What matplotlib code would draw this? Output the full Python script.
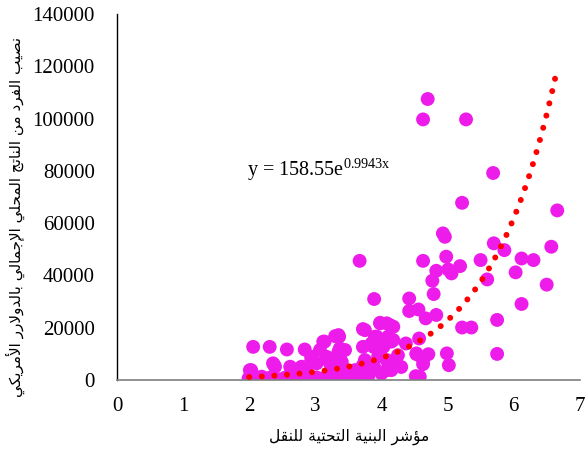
import matplotlib
matplotlib.use("Agg")
import matplotlib.pyplot as plt
import numpy as np

# infrastructure index vs GDP per capita
x_vals = [4.70, 4.63, 5.28, 5.69, 5.22, 6.66,
          4.93, 4.96, 5.70, 5.86, 6.57,
          4.63, 3.67, 4.98, 4.83, 5.01, 5.06, 5.19,
          4.77, 4.79, 5.50, 5.60, 6.12, 6.30, 6.03,
          6.50, 6.12, 5.75, 5.75, 5.22, 5.36, 4.99, 5.02,
          4.42, 4.42, 4.56, 4.67, 4.83, 4.37, 4.57, 4.53,
          4.71, 4.63, 4.52, 4.63, 4.58, 4.53,
          3.89, 3.72, 3.75, 3.98, 3.98, 4.08, 4.13, 4.18,
          3.93, 3.90, 4.08, 4.10, 4.18, 4.15, 3.85,
          4.03, 3.88, 3.72, 4.18, 4.08, 3.88, 3.70, 3.70,
          3.75, 4.08, 4.15, 3.90, 3.60, 3.65, 3.72,
          3.36, 3.35, 3.30, 3.12, 3.14, 3.35, 3.40, 3.37, 3.45,
          3.32, 3.37, 3.47, 3.57, 3.37, 3.22, 3.45,
          2.06, 2.31, 2.57, 2.84, 3.07, 2.94, 3.17, 3.22, 3.02,
          2.94, 3.12, 2.92, 2.72, 2.62, 2.39, 2.36, 2.38, 2.01, 2.03,
          1.99, 2.19, 2.46, 2.21, 2.77, 2.87, 2.79, 3.02, 2.55, 2.65,
          2.30, 2.10, 3.25, 3.55, 3.80, 4.00, 3.95, 4.25, 4.30]
y_vals = [107500, 99700, 99700, 79200, 67800, 64900,
          56100, 54800, 52300, 49700, 51000,
          45600, 45600, 47200, 41800, 42300, 40800, 43600,
          38000, 32900, 45900, 38500, 46500, 45900, 41200,
          36500, 29100, 23000, 10000, 20100, 20100, 10200, 5700,
          31200, 26400, 27000, 23600, 24900, 14000, 15900, 9900,
          9900, 6100, 1500, 7650, 1300, 10200,
          31000, 19500, 19100, 21700, 21900, 21700, 21000, 20400,
          16600, 16600, 15300, 16600, 15300, 14700, 14000,
          12700, 12700, 12700, 6400, 3800, 5100, 3800, 650,
          7650, 7650, 3800, 4500, 3800, 1900, 5700,
          16600, 17200, 16800, 14700, 14700, 10800, 7000, 12100, 11500,
          8900, 5700, 3800, 2600, 1300, 2600, 2600,
          12700, 12700, 11700, 11700, 11500, 8900, 8900, 6400, 6400,
          8300, 650, 1300, 2600, 5100, 5100, 6400, 5700, 3800, 3800,
          650, 1300, 300, 300, 650, 5100, 5100, 1000, 1000, 1500,
          800, 1200, 500, 800, 1500, 2500, 9000, 9500, 5000]

fit_a = 158.55
fit_b = 0.9943
fit_x_range = [2.0, 6.64]

x_ticks = [0, 1, 2, 3, 4, 5, 6, 7]
y_ticks = [0, 20000, 40000, 60000, 80000, 100000, 120000, 140000]

x_title = "مؤشر البنية التحتية للنقل"
y_title = "نصيب الفرد من الناتج المحلي الإجمالي بالدولارر الأمريكي"


# matplotlib has no arabic shaping, so build presentation forms by hand
DUAL = {'ئ': 0xFE89, 'ب': 0xFE8F, 'ت': 0xFE95, 'ث': 0xFE99, 'ج': 0xFE9D,
        'ح': 0xFEA1, 'خ': 0xFEA5, 'س': 0xFEB1, 'ش': 0xFEB5, 'ص': 0xFEB9,
        'ض': 0xFEBD, 'ط': 0xFEC1, 'ظ': 0xFEC5, 'ع': 0xFEC9, 'غ': 0xFECD,
        'ف': 0xFED1, 'ق': 0xFED5, 'ك': 0xFED9, 'ل': 0xFEDD, 'م': 0xFEE1,
        'ن': 0xFEE5, 'ه': 0xFEE9, 'ي': 0xFEF1}
RIGHT = {'آ': 0xFE81, 'أ': 0xFE83, 'ؤ': 0xFE85, 'إ': 0xFE87, 'ا': 0xFE8D,
         'ة': 0xFE93, 'د': 0xFEA9, 'ذ': 0xFEAB, 'ر': 0xFEAD, 'ز': 0xFEAF,
         'و': 0xFEED, 'ى': 0xFEEF}
LAMALEF = {'آ': 0xFEF5, 'أ': 0xFEF7, 'إ': 0xFEF9, 'ا': 0xFEFB}


def shape(text):
    units = []
    i = 0
    while i < len(text):
        c = text[i]
        if c == 'ل' and i + 1 < len(text) and text[i + 1] in LAMALEF:
            units.append(('R', LAMALEF[text[i + 1]]))
            i += 2
            continue
        if c in DUAL:
            units.append(('D', DUAL[c]))
        elif c in RIGHT:
            units.append(('R', RIGHT[c]))
        else:
            units.append(('N', c))
        i += 1
    out = []
    for k, (kind, base) in enumerate(units):
        if kind == 'N':
            out.append(base)
            continue
        prev = k > 0 and units[k - 1][0] == 'D'
        nxt = kind == 'D' and k + 1 < len(units) and units[k + 1][0] != 'N'
        if prev and nxt:
            off = 3
        elif nxt:
            off = 2
        elif prev:
            off = 1
        else:
            off = 0
        out.append(chr(base + off))
    return ''.join(out)[::-1]


plt.rcParams['font.family'] = ['Liberation Serif', 'DejaVu Sans']
plt.rcParams['mathtext.fontset'] = 'stix'

fig = plt.figure(figsize=(5.85, 4.53), dpi=100)
ax = fig.add_axes([0.2, 0.161, 0.791, 0.808])

ax.scatter(x_vals, y_vals, s=100, color='#EE1CEA', edgecolors='none', zorder=2)

fx = np.linspace(fit_x_range[0], fit_x_range[1], 200)
ax.plot(fx, fit_a * np.exp(fit_b * fx), color='#FF0000', lw=4.3,
        ls=(0, (0.01, 2.1)), dash_capstyle='round', zorder=3)

ax.text(1.97, 80500, r'y = 158.55e$^{\mathregular{0.9943x}}$', fontsize=14.5,
        va='center', ha='left')

ax.set_xlim(0, 7)
ax.set_ylim(0, 140000)
ax.set_xticks(x_ticks)
ax.set_yticks(y_ticks)
ax.tick_params(length=0, labelsize=15, colors='black')
ax.tick_params(axis='y', pad=16)
ax.tick_params(axis='x', pad=12)

for s in ['top', 'right']:
    ax.spines[s].set_visible(False)
ax.spines['left'].set_color('black')
ax.spines['bottom'].set_color('#7f7f7f')
ax.spines['left'].set_linewidth(1.0)
ax.spines['bottom'].set_linewidth(1.2)

fig.text(349 / 585, 1 - 437 / 453, shape(x_title), family='DejaVu Sans',
         fontsize=11.2, ha='center', va='center')
fig.text(15 / 585, 1 - 217 / 453, shape(y_title), family='DejaVu Sans',
         fontsize=11, ha='center', va='center', rotation=90)

fig.savefig('out.png', dpi=100)
